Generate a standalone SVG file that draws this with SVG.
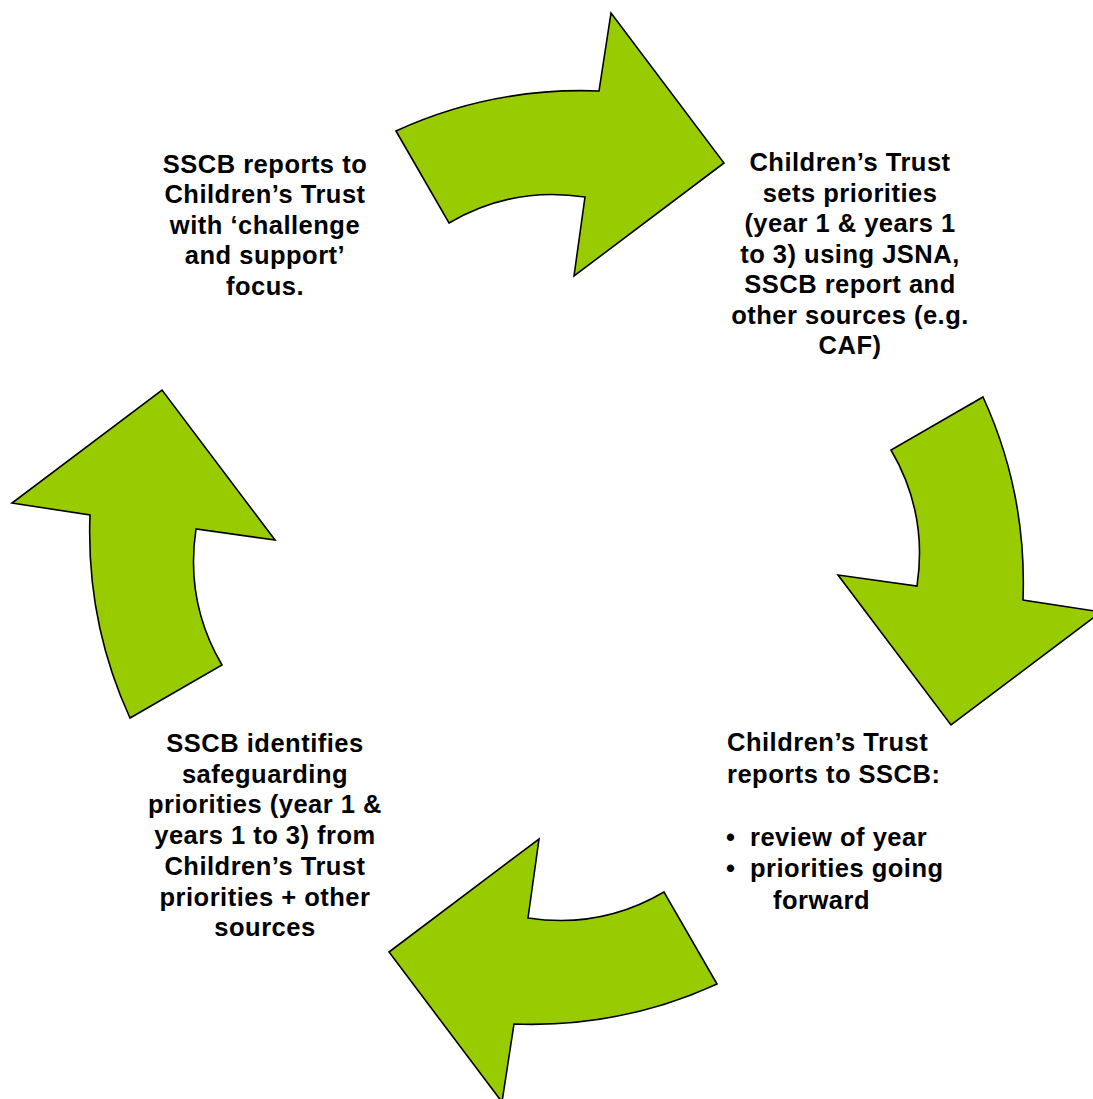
<svg xmlns="http://www.w3.org/2000/svg" xmlns:xlink="http://www.w3.org/1999/xlink" width="1093" height="1099" viewBox="0 0 1093 1099">
<style>
.arrow{fill:#99CC00;stroke:#000;stroke-width:1.6;stroke-linejoin:miter}
.t{font-family:"Liberation Sans",Arial,sans-serif;font-weight:bold;font-size:25.5px;letter-spacing:0.5px;fill:#000}
.c{text-anchor:middle}
</style>
<defs>
<path id="arr" class="arrow" d="M396,131 Q492,87 599,91 L611,13 L724,163 L574,276 L585,197 Q512,186 449,223 Z"/>
</defs>
<rect width="1093" height="1099" fill="#fff"/>
<g id="connectors">
<use xlink:href="#arr" href="#arr"/>
<use xlink:href="#arr" href="#arr" transform="rotate(90 556.5 557.5)"/>
<use xlink:href="#arr" href="#arr" transform="rotate(180 556.5 557.5)"/>
<use xlink:href="#arr" href="#arr" transform="rotate(270 556.5 557.5)"/>
</g>
<g id="node-sscb-reports">
<text class="t c" x="265" y="172.5">SSCB reports to</text>
<text class="t c" x="265" y="203">Children’s Trust</text>
<text class="t c" x="265" y="233.5">with ‘challenge</text>
<text class="t c" x="265" y="264">and support’</text>
<text class="t c" x="265" y="294.5">focus.</text>
</g>
<g id="node-ct-sets">
<text class="t c" x="850" y="171">Children’s Trust</text>
<text class="t c" x="850" y="201.5">sets priorities</text>
<text class="t c" x="850" y="232">(year 1 &amp; years 1</text>
<text class="t c" x="850" y="262.5">to 3) using JSNA,</text>
<text class="t c" x="850" y="293">SSCB report and</text>
<text class="t c" x="850" y="323.5">other sources (e.g.</text>
<text class="t c" x="850" y="354">CAF)</text>
</g>
<g id="node-ct-reports">
<text class="t" x="727" y="751">Children’s Trust</text>
<text class="t" x="727" y="782.5">reports to SSCB:</text>
<text class="t" x="726" y="845.5">•</text>
<text class="t" x="750" y="845.5">review of year</text>
<text class="t" x="726" y="877">•</text>
<text class="t" x="750" y="877">priorities going</text>
<text class="t" x="773" y="908.5">forward</text>
</g>
<g id="node-sscb-identifies">
<text class="t c" x="265" y="752">SSCB identifies</text>
<text class="t c" x="265" y="782.7">safeguarding</text>
<text class="t c" x="265" y="813.4">priorities (year 1 &amp;</text>
<text class="t c" x="265" y="844">years 1 to 3) from</text>
<text class="t c" x="265" y="874.8">Children’s Trust</text>
<text class="t c" x="265" y="905.5">priorities + other</text>
<text class="t c" x="265" y="936">sources</text>
</g>
</svg>
